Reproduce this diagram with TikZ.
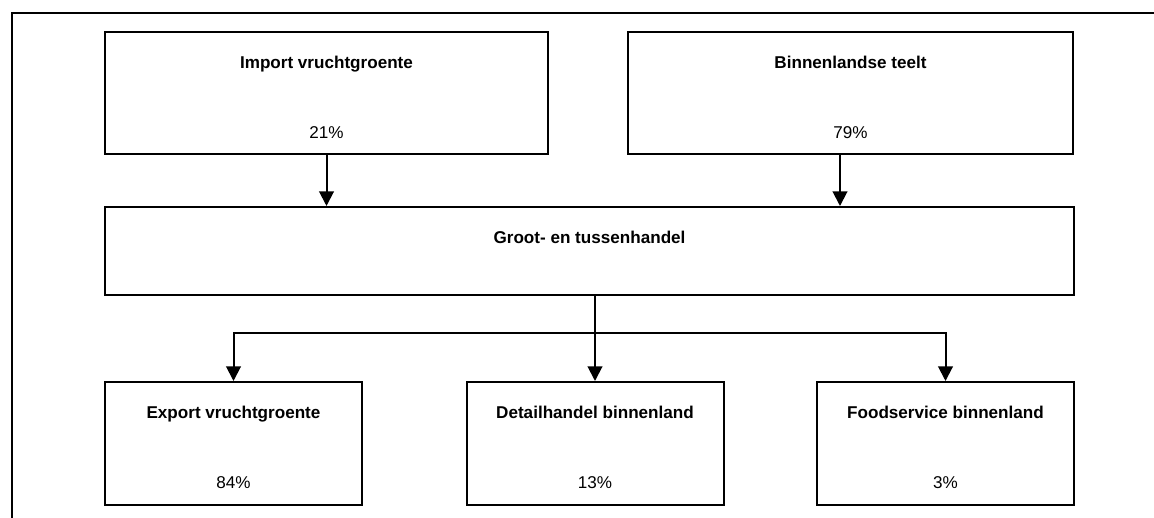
\documentclass[tikz,border=0pt]{standalone}
\usepackage{fontspec}
\setmainfont{Liberation Sans}
\usetikzlibrary{arrows.meta}
\begin{document}
\begin{tikzpicture}[x=1pt,y=-1pt,
  box/.style={draw,line width=2pt,inner sep=0pt,minimum width=#1},
  ttl/.style={anchor=base,inner sep=0pt,font=\fontsize{17.1}{20}\selectfont\bfseries},
  pct/.style={anchor=base,inner sep=0pt,font=\fontsize{17.1}{20}\selectfont},
  arr/.style={line width=2pt,-{Triangle[width=14.5pt,length=14.5pt]}},
  ln/.style={line width=2pt}]
\useasboundingbox (0,0) rectangle (1154,518);
\draw[ln] (12,518) -- (12,13) -- (1160,13);
% top boxes
\node[box=443pt,minimum height=122pt] (imp) at (326.5,93) {};
\node[box=445pt,minimum height=122pt] (bin) at (850.5,93) {};
\node[ttl] (impt) at (326.5,69) {Import vruchtgroente};
\node[pct] (impp) at (326.5,138.5) {21\%};
\node[ttl] (bint) at (850.5,69) {Binnenlandse teelt};
\node[pct] (binp) at (850.5,138.5) {79\%};
% middle box
\node[box=969pt,minimum height=88pt] (grt) at (589.5,251) {};
\node[ttl] (grtt) at (589.5,243.5) {Groot- en tussenhandel};
% bottom boxes
\node[box=257pt,minimum height=123pt] (exp) at (233.5,443.5) {};
\node[box=257pt,minimum height=123pt] (det) at (595,443.5) {};
\node[box=257pt,minimum height=123pt] (fsv) at (945.5,443.5) {};
\node[ttl] (expt) at (233.5,419) {Export vruchtgroente};
\node[pct] (expp) at (233.5,488.5) {84\%};
\node[ttl] (dett) at (595,419) {Detailhandel binnenland};
\node[pct] (detp) at (595,488.5) {13\%};
\node[ttl] (fsvt) at (945.5,419) {Foodservice binnenland};
\node[pct] (fsvp) at (945.5,488.5) {3\%};
% connectors
\coordinate (binout) at (840,154);
\draw[arr] (imp.south) -- (imp.south |- grt.north);
\draw[arr] (binout) -- (binout |- grt.north);
\coordinate (br) at (595,333);
\draw[arr] (det.north |- grt.south) -- (det.north);
\draw[arr] (br) -| (exp.north);
\draw[arr] (br) -| (fsv.north);
\end{tikzpicture}
\end{document}
